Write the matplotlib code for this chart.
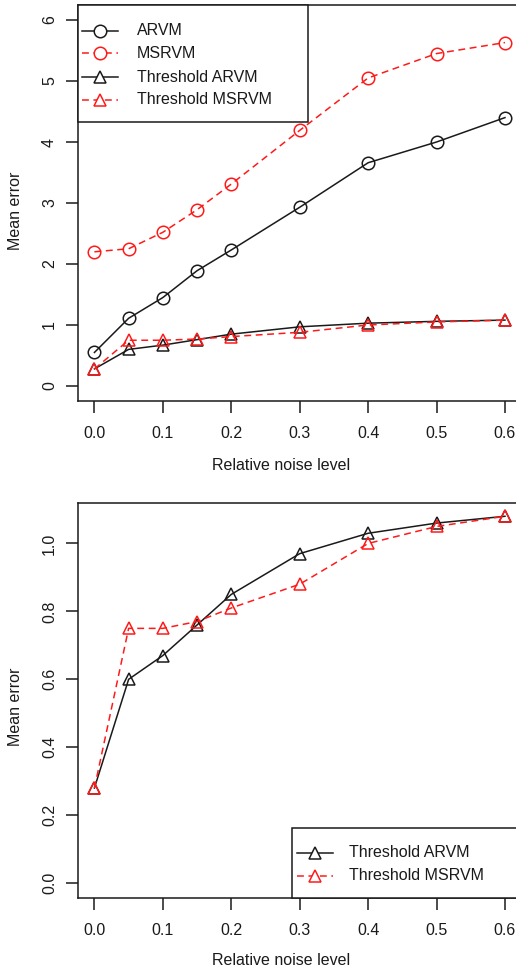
import matplotlib
matplotlib.use("Agg")
import matplotlib.pyplot as plt
from matplotlib.lines import Line2D
from matplotlib.patches import Rectangle

# data
noise = [0.0, 0.05, 0.1, 0.15, 0.2, 0.3, 0.4, 0.5, 0.6]
arvm = [0.55, 1.11, 1.45, 1.89, 2.23, 2.93, 3.66, 4.00, 4.40]
msrvm = [2.20, 2.25, 2.52, 2.89, 3.31, 4.19, 5.05, 5.45, 5.63]
thr_arvm = [0.28, 0.60, 0.67, 0.76, 0.85, 0.97, 1.03, 1.06, 1.08]
thr_msrvm = [0.28, 0.75, 0.75, 0.77, 0.81, 0.88, 1.00, 1.05, 1.08]

xticks = [0.0, 0.1, 0.2, 0.3, 0.4, 0.5, 0.6]
yticks_top = [0, 1, 2, 3, 4, 5, 6]
yticks_bot = [0.0, 0.2, 0.4, 0.6, 0.8, 1.0]

plt.rcParams["font.family"] = ["Liberation Sans", "DejaVu Sans"]
INK = "#1a1a1a"
RED = "#ff1a1a"
FS = 11.5
W, H = 516, 971
LW = 1.1
dash = (0, (4.5, 3))

fig = plt.figure(figsize=(W / 100, H / 100), dpi=100)
ax1 = fig.add_axes([78 / W, 1 - 401 / H, 443.4 / W, 396 / H])
ax2 = fig.add_axes([78 / W, 1 - 897.7 / H, 443.4 / W, 395 / H])

circ = dict(marker="o", ms=9.0, mfc="none", mew=LW, lw=LW)
tri = dict(marker="^", ms=8.4, mfc="none", mew=LW, lw=LW)

ax1.plot(noise, arvm, color=INK, ls="-", **circ)
ax1.plot(noise, msrvm, color=RED, ls=dash, **circ)
ax1.plot(noise, thr_arvm, color=INK, ls="-", **tri)
ax1.plot(noise, thr_msrvm, color=RED, ls=dash, **tri)

ax2.plot(noise, thr_arvm, color=INK, ls="-", **tri)
ax2.plot(noise, thr_msrvm, color=RED, ls=dash, **tri)

ax1.set_ylim(-0.246, 6.246)
ax2.set_ylim(-0.043, 1.12)
ax1.set_yticks(yticks_top)
ax1.set_yticklabels([str(v) for v in yticks_top])
ax2.set_yticks(yticks_bot)
ax2.set_yticklabels(["%.1f" % v for v in yticks_bot])

for ax in (ax1, ax2):
    ax.set_xlim(-0.024, 0.624)
    ax.set_xticks(xticks)
    ax.set_xticklabels(["%.1f" % v for v in xticks])
    for s in ax.spines.values():
        s.set_linewidth(LW)
        s.set_color(INK)
    ax.tick_params(direction="out", length=8.6, width=LW, color=INK,
                   labelsize=FS, labelcolor=INK)
    ax.tick_params(axis="x", pad=9.5)
    ax.tick_params(axis="y", pad=6.5, labelrotation=90)
    for lab in ax.get_yticklabels():
        lab.set_va("center")
    ax.set_xlabel("Relative noise level", fontsize=FS, color=INK)
    ax.set_ylabel("Mean error", fontsize=FS, color=INK)
    ax.xaxis.label.set_va("center")
    ax.yaxis.label.set_va("center")

ax1.xaxis.set_label_coords(0.459, -0.162)
ax1.yaxis.set_label_coords(-0.141, 0.48)
ax2.xaxis.set_label_coords(0.459, -0.158)
ax2.yaxis.set_label_coords(-0.141, 0.483)


def r_legend(box, rows, hx, tx, entries):
    # R style legend box, given in pixel coordinates of the figure
    x0, y0, x1, y1 = box
    fig.add_artist(Rectangle((x0 / W, 1 - y1 / H), (x1 - x0) / W, (y1 - y0) / H,
                             transform=fig.transFigure, facecolor="white",
                             edgecolor=INK, lw=LW, zorder=5))
    for (label, color, ls, marker), ry in zip(entries, rows):
        yy = 1 - ry / H
        fig.add_artist(Line2D([hx[0] / W, hx[1] / W], [yy, yy], color=color, ls=ls,
                              lw=LW, transform=fig.transFigure, zorder=6))
        fig.add_artist(Line2D([(hx[0] + hx[1]) / 2 / W], [yy], color=color, ls="none",
                              marker=marker, ms=9.0 if marker == "o" else 8.4,
                              mfc="white", mew=LW, transform=fig.transFigure, zorder=7))
        fig.text(tx / W, yy, label, va="center", ha="left", fontsize=FS, color=INK,
                 zorder=8)


r_legend((78, 5, 308, 121.7), [30.7, 53.5, 77.0, 100.0], (82, 118), 136.7,
         [("ARVM", INK, "-", "o"), ("MSRVM", RED, dash, "o"),
          ("Threshold ARVM", INK, "-", "^"), ("Threshold MSRVM", RED, dash, "^")])
r_legend((291.7, 827.7, 540, 897.7), [852.7, 875.7], (296.7, 333.3), 349,
         [("Threshold ARVM", INK, "-", "^"), ("Threshold MSRVM", RED, dash, "^")])

fig.savefig("out.png", dpi=100)
